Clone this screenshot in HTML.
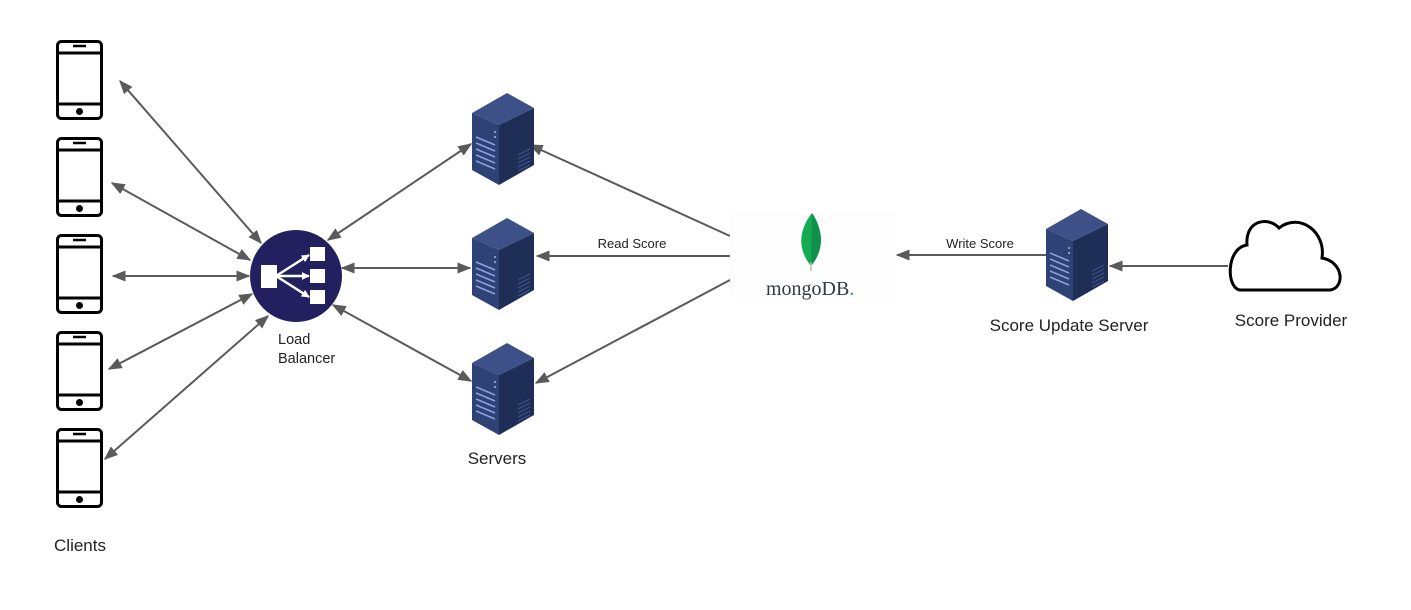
<!DOCTYPE html>
<html><head><style>
html,body{margin:0;padding:0;background:#fff;}
svg{display:block;font-family:"Liberation Sans",sans-serif;}
</style></head><body>
<svg width="1411" height="610" viewBox="0 0 1411 610" xmlns="http://www.w3.org/2000/svg">
<defs>
<marker id="a" viewBox="0 0 10 10" refX="9" refY="5" markerWidth="14" markerHeight="14" markerUnits="userSpaceOnUse" orient="auto-start-reverse">
<path d="M0,1 L10,5 L0,9 z" fill="#5a5a5a"/></marker>
<marker id="w" viewBox="0 0 10 10" refX="9" refY="5" markerWidth="8" markerHeight="8" markerUnits="userSpaceOnUse" orient="auto">
<path d="M0,0 L10,5 L0,10 z" fill="#fff"/></marker>
<g id="phone">
<rect x="57.5" y="1.5" width="44" height="77" rx="4" fill="none" stroke="#000" stroke-width="3"/>
<line x1="57" y1="13" x2="102" y2="13" stroke="#000" stroke-width="3"/>
<line x1="57" y1="64" x2="102" y2="64" stroke="#000" stroke-width="3"/>
<line x1="73" y1="6" x2="86" y2="6" stroke="#000" stroke-width="2.5"/>
<circle cx="79.5" cy="71.5" r="3.5" fill="#000"/>
</g>
<g id="srv">
<polygon points="35,0 62,15 27,32 0,20" fill="#3d5188"/>
<polygon points="0,20 27,32 27,92 0,77" fill="#2f4276"/>
<polygon points="27,32 62,15 62,72 27,92" fill="#1f2e57"/>
<g stroke="#8ea0dd" stroke-width="1.5">
<line x1="4" y1="44" x2="23" y2="52"/><line x1="4" y1="50" x2="23" y2="58"/>
<line x1="4" y1="56" x2="23" y2="64"/><line x1="4" y1="62" x2="23" y2="70"/>
<line x1="4" y1="68" x2="23" y2="76"/></g>
<g stroke="#3f548c" stroke-width="1">
<line x1="46" y1="62" x2="58" y2="56"/><line x1="46" y1="66" x2="58" y2="60"/>
<line x1="46" y1="70" x2="58" y2="64"/><line x1="46" y1="74" x2="58" y2="68"/>
<line x1="46" y1="78" x2="58" y2="72"/></g>
<circle cx="23" cy="39" r="0.9" fill="#cfd8f5"/><circle cx="23" cy="44" r="0.9" fill="#cfd8f5"/>
</g>
</defs>

<use href="#phone" y="40"/>
<use href="#phone" y="137"/>
<use href="#phone" y="234"/>
<use href="#phone" y="331"/>
<use href="#phone" y="428"/>

<g stroke="#5a5a5a" stroke-width="2" fill="none" marker-start="url(#a)" marker-end="url(#a)">
<line x1="120" y1="81" x2="261" y2="243"/>
<line x1="112" y1="183" x2="250" y2="260"/>
<line x1="113" y1="276" x2="249" y2="276"/>
<line x1="109" y1="369" x2="252" y2="294"/>
<line x1="105" y1="459" x2="268" y2="316"/>
<line x1="328" y1="240" x2="471" y2="144"/>
<line x1="342" y1="268" x2="470" y2="268"/>
<line x1="333" y1="305" x2="471" y2="381"/>
</g>
<g stroke="#5a5a5a" stroke-width="2" fill="none" marker-end="url(#a)">
<line x1="730" y1="236" x2="530" y2="145"/>
<line x1="730" y1="256" x2="537" y2="256"/>
<line x1="730" y1="280" x2="536" y2="383"/>
<line x1="1046" y1="255" x2="897" y2="255"/>
<line x1="1228" y1="266" x2="1110" y2="266"/>
</g>

<circle cx="296" cy="276" r="46" fill="#22205f"/>
<g fill="#fff">
<rect x="261" y="265" width="16" height="23"/>
<rect x="310" y="247" width="15" height="14"/>
<rect x="310" y="269" width="15" height="14"/>
<rect x="310" y="290" width="15" height="14"/>
</g>
<g stroke="#fff" stroke-width="2.5" marker-end="url(#w)"><line x1="276" y1="276" x2="309" y2="255"/><line x1="276" y1="276" x2="309" y2="276"/><line x1="276" y1="276" x2="309" y2="297"/></g>

<use href="#srv" x="472" y="93"/>
<use href="#srv" x="472" y="218"/>
<use href="#srv" x="472" y="343"/>
<use href="#srv" x="1046" y="209"/>

<rect x="730" y="212" width="166" height="86" fill="#fdfdfd"/>
<path d="M812,213 C800,228 796,248 811,266 C826,248 822,228 812,213z" fill="#13aa52"/>
<path d="M812,213 C822,228 826,248 811,266 z" fill="#10904a"/>
<line x1="811" y1="262" x2="811" y2="271" stroke="#b8c4a8" stroke-width="1.5"/>
<text x="766" y="295" font-family="Liberation Serif,serif" font-size="20" fill="#333a40">mongoDB<tspan fill="#13aa52">.</tspan></text>

<path d="M1240,290 L1330,290 C1345,288 1344,262 1322,258 C1326,232 1300,212 1279,228 C1268,216 1245,220 1247,245 C1226,248 1226,288 1240,290z" fill="none" stroke="#000" stroke-width="3"/>

<g fill="#222" font-size="17" text-anchor="middle">
<text x="80" y="551">Clients</text>
<text x="497" y="464">Servers</text>
<text x="1069" y="331">Score Update Server</text>
<text x="1291" y="326">Score Provider</text>
</g>
<text x="278" y="344" font-size="14.5" fill="#222">Load</text>
<text x="278" y="363" font-size="14.5" fill="#222">Balancer</text>
<text x="632" y="248" font-size="13" fill="#222" text-anchor="middle">Read Score</text>
<text x="980" y="248" font-size="13" fill="#222" text-anchor="middle">Write Score</text>
</svg>
</body></html>
